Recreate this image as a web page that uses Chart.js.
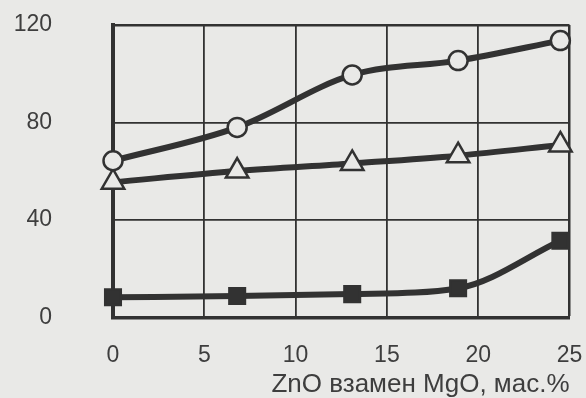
<!DOCTYPE html>
<html>
<head>
<meta charset="utf-8">
<script src="https://cdn.jsdelivr.net/npm/chart.js@4/dist/chart.umd.min.js"></script>
<style>
  html, body { margin: 0; padding: 0; background: #e9e9e7; }
  #wrap { width: 586px; height: 398px; }
</style>
</head>
<body>
<div id="wrap"><canvas id="c"></canvas></div>
<script>
// ZnO content replacing MgO, wt.%
const znoContent = [0, 6.8, 13.1, 18.9, 24.5];
// three measured properties
const seriesCircles   = [64.3, 78.0, 99.5, 105.4, 113.6];
const seriesTriangles = [55.5, 60.1, 63.2, 66.4, 70.8];
const seriesSquares   = [8.3, 8.8, 9.6, 12.0, 31.5];
const xTicks = [0, 5, 10, 15, 20, 25];
const yTicks = [0, 40, 80, 120];
const xTitle = 'ZnO взамен MgO, мас.%';

const ink = '#323232';
const paper = '#e9e9e7';
const pts = ys => znoContent.map((x, i) => ({ x, y: ys[i] }));

const bg = {
  id: 'bg',
  beforeDraw(chart) {
    const { ctx, width, height } = chart;
    ctx.save();
    ctx.fillStyle = paper;
    ctx.fillRect(0, 0, width, height);
    ctx.restore();
  }
};

const common = {
  borderColor: ink,
  borderWidth: 6,
  cubicInterpolationMode: 'monotone',
  pointBorderColor: ink,
  pointBorderWidth: 2.5,
  clip: false
};

new Chart(document.getElementById('c'), {
  type: 'line',
  data: {
    datasets: [
      Object.assign({}, common, {
        label: 'circles', data: pts(seriesCircles),
        pointStyle: 'circle', pointRadius: 9.5, pointBackgroundColor: paper
      }),
      Object.assign({}, common, {
        label: 'triangles', data: pts(seriesTriangles),
        pointStyle: 'triangle', pointRadius: 13, pointBackgroundColor: paper
      }),
      Object.assign({}, common, {
        label: 'squares', data: pts(seriesSquares),
        pointStyle: 'rect', pointRadius: 11, pointBackgroundColor: ink
      })
    ]
  },
  options: {
    responsive: true,
    maintainAspectRatio: false,
    animation: false,
    layout: { autoPadding: false, padding: { left: 14, right: 16.5, top: 25, bottom: 0 } },
    plugins: { legend: { display: false }, tooltip: { enabled: false } },
    scales: {
      x: {
        type: 'linear', min: 0, max: 25,
        afterBuildTicks: s => { s.ticks = xTicks.map(v => ({ value: v })); },
        afterFit: s => { s.height = 80.5; s.paddingLeft = 0; s.paddingRight = 0; },
        ticks: { padding: 24, color: '#3e3e3e', maxRotation: 0, font: { family: 'Liberation Sans', size: 23 } },
        grid: {
          color: ink, drawTicks: false,
          lineWidth: c => (c.tick && c.tick.value === 0) ? 0 : (c.tick && c.tick.value === 25 ? 2.5 : 1.8)
        },
        border: { color: ink, width: 3.5 },
        title: {
          display: true, text: xTitle, align: 'end', color: '#3e3e3e',
          font: { family: 'Liberation Sans', size: 26, lineHeight: 1 },
          padding: { top: 3, bottom: 0 }
        }
      },
      y: {
        type: 'linear', min: 0, max: 120,
        afterBuildTicks: s => { s.ticks = yTicks.map(v => ({ value: v })); },
        afterFit: s => { s.width = 99; s.paddingTop = 0; s.paddingBottom = 0; },
        ticks: { padding: 61, color: '#3e3e3e', font: { family: 'Liberation Sans', size: 23 } },
        grid: {
          color: ink, drawTicks: false,
          lineWidth: c => (c.tick && c.tick.value === 0) ? 0 : (c.tick && c.tick.value === 120 ? 2.5 : 1.8)
        },
        border: { color: ink, width: 4 }
      }
    }
  },
  plugins: [bg]
});
</script>
</body>
</html>
